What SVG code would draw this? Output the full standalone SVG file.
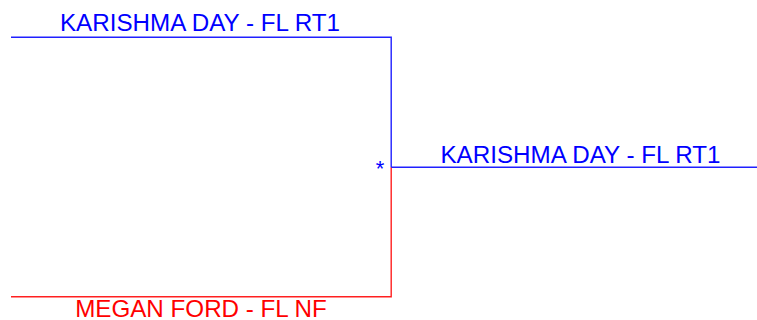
<svg xmlns="http://www.w3.org/2000/svg" width="757" height="320" viewBox="0 0 757 320">
<style>
text{font-family:"Liberation Sans",Arial,sans-serif;font-size:24.2px;text-anchor:middle}
.b{fill:#0000ff}.r{fill:#ff0000}
</style>
<rect width="757" height="320" fill="#ffffff"/>
<g id="connectors" fill="none" stroke-width="1.4">
<path stroke="#2020ff" d="M11 37.2H391.2V167"/>
<path stroke="#ff2020" d="M391.2 167V296.8H11"/>
<path stroke="#2020ff" d="M391.2 167.2H757"/>
</g>
<g id="node-top"><text class="b" x="200" y="31">KARISHMA DAY - FL RT1</text></g>
<g id="node-bottom"><text class="r" x="201" y="317">MEGAN FORD - FL NF</text></g>
<g id="node-winner"><text class="b" x="580.5" y="163">KARISHMA DAY - FL RT1</text>
<text class="b" x="380" y="176" style="font-size:22px">*</text></g>
</svg>
